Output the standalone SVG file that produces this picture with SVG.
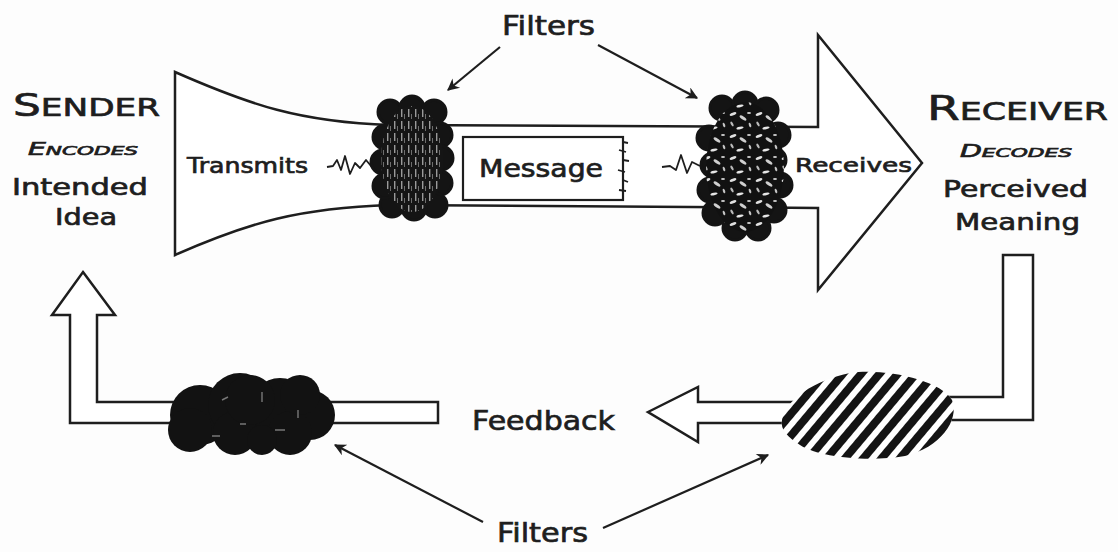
<svg xmlns="http://www.w3.org/2000/svg" width="1118" height="552" viewBox="0 0 1118 552">
  <style>
    .shape{fill:#fff;stroke:#1e1e1e;stroke-width:2.5;stroke-linejoin:miter}
    .ln{fill:none;stroke:#1e1e1e;stroke-width:1.8;stroke-linejoin:round}
    .t{font-family:"DejaVu Sans","Liberation Sans",sans-serif;fill:#1e1e1e;stroke:#1e1e1e;stroke-width:0.7}
    .conn{fill:none;stroke:#1e1e1e;stroke-width:2.2;marker-end:url(#ah)}
    .rim{fill:#141414;stroke:#141414;stroke-width:3}
  </style>
  <defs>
    <marker id="ah" viewBox="0 0 10 10" refX="9" refY="5" markerUnits="userSpaceOnUse" markerWidth="15" markerHeight="12" orient="auto">
      <path d="M0,0 L10,5 L0,10 L3,5 Z" fill="#1e1e1e"/>
    </marker>
    <!-- vertical streak texture -->
    <pattern id="vstreak" width="7" height="12" patternUnits="userSpaceOnUse">
      <rect width="7" height="12" fill="#151515"/>
      <rect x="2" y="1" width="1.4" height="8" fill="#9a9a9a"/>
      <rect x="5" y="6" width="1" height="5" fill="#6e6e6e"/>
    </pattern>
    <!-- mottled texture -->
    <pattern id="mottle" width="26" height="22" patternUnits="userSpaceOnUse">
      <rect width="26" height="22" fill="#111"/>
      <ellipse cx="5" cy="4" rx="3.5" ry="1.4" transform="rotate(-20 5 4)" fill="#e0e0e0"/>
      <ellipse cx="15" cy="8" rx="4" ry="1.5" transform="rotate(35 15 8)" fill="#d0d0d0"/>
      <ellipse cx="4" cy="14" rx="2.6" ry="1.2" transform="rotate(60 4 14)" fill="#bbb"/>
      <ellipse cx="21" cy="3" rx="2" ry="1" fill="#ccc"/>
      <ellipse cx="12" cy="18" rx="3.6" ry="1.3" transform="rotate(-10 12 18)" fill="#e6e6e6"/>
      <ellipse cx="22" cy="15" rx="2.4" ry="1.1" transform="rotate(70 22 15)" fill="#c4c4c4"/>
    </pattern>
    <!-- diagonal stripes -->
    <pattern id="stripes" width="14" height="14" patternUnits="userSpaceOnUse" patternTransform="rotate(40)">
      <rect x="0" y="0" width="8" height="14" fill="#141414"/>
    </pattern>
  </defs>

  <rect width="1118" height="552" fill="#fdfdfd"/>

  <!-- main channel: horn, tube and big arrow -->
  <g id="channel">
    <path class="shape" d="M175,72 C250,105 300,122 390,125 L818,127 L818,35 L922,163 L818,290 L818,208 L390,205 C300,208 250,222 175,255 Z"/>
    <text class="t" x="187" y="173" font-size="21" textLength="121" lengthAdjust="spacingAndGlyphs">Transmits</text>
    <text class="t" x="795" y="172" font-size="20" textLength="117" lengthAdjust="spacingAndGlyphs">Receives</text>
    <path class="ln" d="M327,167 L333,166 L337,160 L341,170 L345,156 L350,174 L355,163 L360,168 L366,160 L371,166 L378,162"/>
    <path class="ln" d="M662,167 L670,166 L676,170 L681,155 L687,173 L692,162 L700,166"/>
  </g>

  <g id="message">
    <rect x="463" y="137" width="160" height="63" fill="#fff" stroke="#1e1e1e" stroke-width="2.2"/>
    <path class="ln" stroke-width="1.4" d="M623,142 L628,143 M619,150 L626,152 M623,160 L629,161 M618,170 L625,172 M623,180 L628,182 M619,190 L626,191"/>
    <text class="t" x="479" y="177" font-size="25" textLength="124" lengthAdjust="spacingAndGlyphs">Message</text>
  </g>

  <g id="sender">
    <text class="t" x="13" y="116" textLength="147" lengthAdjust="spacingAndGlyphs"><tspan font-size="32">S</tspan><tspan font-size="25">ENDER</tspan></text>
    <text class="t" x="28" y="155" font-style="italic" textLength="110" lengthAdjust="spacingAndGlyphs"><tspan font-size="17">E</tspan><tspan font-size="13">NCODES</tspan></text>
    <text class="t" x="12" y="195" font-size="23" textLength="136" lengthAdjust="spacingAndGlyphs">Intended</text>
    <text class="t" x="55" y="225" font-size="23" textLength="62" lengthAdjust="spacingAndGlyphs">Idea</text>
  </g>

  <g id="receiver">
    <text class="t" x="927" y="120" textLength="181" lengthAdjust="spacingAndGlyphs"><tspan font-size="34">R</tspan><tspan font-size="25">ECEIVER</tspan></text>
    <text class="t" x="960" y="157" font-style="italic" textLength="112" lengthAdjust="spacingAndGlyphs"><tspan font-size="17">D</tspan><tspan font-size="13">ECODES</tspan></text>
    <text class="t" x="943" y="197" font-size="23" textLength="145" lengthAdjust="spacingAndGlyphs">Perceived</text>
    <text class="t" x="955" y="230" font-size="23" textLength="125" lengthAdjust="spacingAndGlyphs">Meaning</text>
  </g>

  <!-- filter on the sending side: scalloped dark rim, streaked core -->
  <g id="filter-send">
    <g class="rim">
      <ellipse cx="412" cy="160" rx="30" ry="50"/>
      <circle cx="390" cy="112" r="12"/><circle cx="412" cy="108" r="12"/><circle cx="434" cy="112" r="12"/>
      <circle cx="440" cy="135" r="12"/><circle cx="441" cy="158" r="12"/><circle cx="440" cy="183" r="12"/>
      <circle cx="435" cy="205" r="12"/><circle cx="414" cy="208" r="12"/><circle cx="392" cy="205" r="12"/>
      <circle cx="385" cy="186" r="12"/><circle cx="383" cy="162" r="12"/><circle cx="385" cy="137" r="12"/>
    </g>
    <ellipse cx="412" cy="159" rx="31" ry="53" fill="url(#vstreak)"/>
  </g>

  <!-- filter on the receiving side: lumpy dark rim, mottled core -->
  <g id="filter-receive">
    <g class="rim">
      <ellipse cx="745" cy="167" rx="36" ry="60"/>
      <circle cx="722" cy="108" r="12"/><circle cx="745" cy="104" r="12"/><circle cx="766" cy="110" r="12"/>
      <circle cx="778" cy="135" r="12"/><circle cx="774" cy="160" r="12"/><circle cx="780" cy="185" r="12"/>
      <circle cx="774" cy="210" r="12"/><circle cx="758" cy="228" r="12"/><circle cx="735" cy="228" r="12"/>
      <circle cx="715" cy="213" r="12"/><circle cx="710" cy="190" r="12"/><circle cx="713" cy="165" r="12"/>
      <circle cx="709" cy="138" r="12"/>
    </g>
    <ellipse cx="745" cy="167" rx="39" ry="65" fill="url(#mottle)"/>
  </g>

  <!-- feedback path -->
  <g id="feedback-return">
    <path class="shape" d="M1003,255 L1033,255 L1033,420 L905,420 L905,397 L1003,397 Z"/>
    <path class="shape" d="M648,412 L698,387 L698,402 L810,402 L810,423 L698,423 L698,442 Z"/>
    <text class="t" x="472" y="430" font-size="27" textLength="143" lengthAdjust="spacingAndGlyphs">Feedback</text>
  </g>

  <g id="feedback-filter-receive">
    <path d="M782,420 C785,400 815,380 850,373 C885,368 940,380 952,400 C960,420 940,448 905,456 C870,462 820,458 800,445 C788,437 780,430 782,420 Z" fill="#fff"/>
    <path d="M782,420 C785,400 815,380 850,373 C885,368 940,380 952,400 C960,420 940,448 905,456 C870,462 820,458 800,445 C788,437 780,430 782,420 Z" fill="url(#stripes)"/>
  </g>

  <g id="feedback-send">
    <path class="shape" d="M83,272 L115,315 L97,315 L97,402 L438,402 L438,423 L70,423 L70,315 L52,315 Z"/>
  </g>

  <g id="feedback-filter-send" fill="#121212">
    <circle cx="200" cy="415" r="30"/><circle cx="240" cy="405" r="32"/><circle cx="280" cy="408" r="30"/>
    <circle cx="310" cy="415" r="25"/><circle cx="235" cy="433" r="22"/><circle cx="290" cy="433" r="22"/>
    <circle cx="190" cy="430" r="22"/><circle cx="250" cy="400" r="25"/><circle cx="300" cy="395" r="20"/>
    <circle cx="262" cy="440" r="15"/>
    <path d="M222,400 L228,397 M262,392 L262,402 M275,430 L285,430 M212,436 L220,436 M298,410 L298,418 M240,424 L246,424" stroke="#777" stroke-width="1.4"/>
  </g>

  <g id="connectors">
    <path class="conn" d="M500,47 L448,90"/>
    <path class="conn" d="M598,45 L697,98"/>
    <path class="conn" d="M483,522 L335,445"/>
    <path class="conn" d="M603,528 L768,455"/>
  </g>

  <g id="filter-labels">
    <text class="t" x="502" y="35" font-size="27" textLength="93" lengthAdjust="spacingAndGlyphs">Filters</text>
    <text class="t" x="497" y="542" font-size="27" textLength="91" lengthAdjust="spacingAndGlyphs">Filters</text>
  </g>
</svg>
